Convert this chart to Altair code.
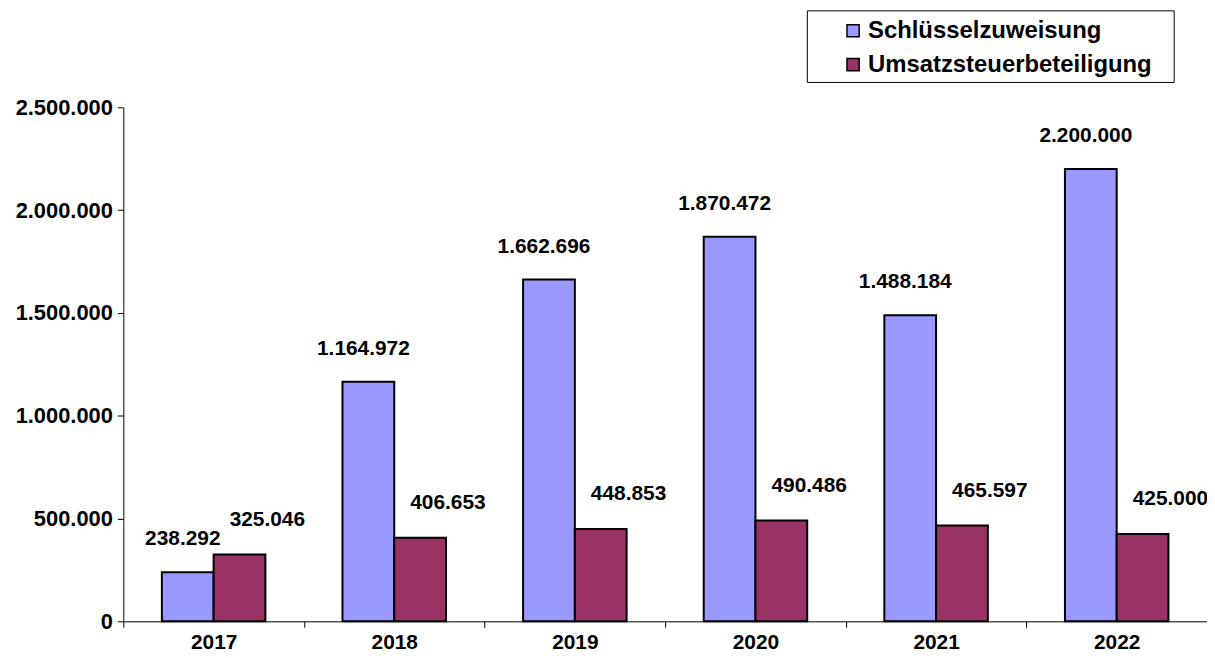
import altair as alt
import pandas as pd

years = ["2017", "2018", "2019", "2020", "2021", "2022"]
schluessel = [238292, 1164972, 1662696, 1870472, 1488184, 2200000]
umsatz = [325046, 406653, 448853, 490486, 465597, 425000]
series = ["Schlüsselzuweisung", "Umsatzsteuerbeteiligung"]
colors = ["#9999FF", "#993366"]
y_ticks = [0, 500000, 1000000, 1500000, 2000000, 2500000]

rows = []
for yr, a, b in zip(years, schluessel, umsatz):
    rows.append({"Jahr": yr, "Reihe": series[0], "Wert": a})
    rows.append({"Jahr": yr, "Reihe": series[1], "Wert": b})
df = pd.DataFrame(rows)

FONT = "Liberation Sans"
fmt_val = "replace(replace(format(datum.value, ','), ',', '.'), ',', '.')"
fmt_w = "replace(replace(format(datum.Wert, ','), ',', '.'), ',', '.')"

x = alt.X(
    "Jahr:N", sort=years,
    scale=alt.Scale(paddingInner=0, paddingOuter=0),
    axis=alt.Axis(title=None, labelAngle=0, tickBand="extent", tickSize=6,
                  tickColor="black", domainColor="black", labelFont=FONT,
                  labelFontSize=21, labelFontWeight="bold", labelColor="black",
                  labelPadding=4, grid=False),
)
xo = alt.XOffset("Reihe:N", sort=series,
                 scale=alt.Scale(domain=series, paddingOuter=0.745, paddingInner=0))
y = alt.Y(
    "Wert:Q",
    scale=alt.Scale(domain=[0, 2500000], nice=False),
    axis=alt.Axis(title=None, values=y_ticks, labelExpr=fmt_val, tickSize=6,
                  tickColor="black", domainColor="black", labelFont=FONT,
                  labelFontSize=22, labelFontWeight="bold", labelColor="black",
                  labelPadding=5, grid=False),
)

base = alt.Chart(df).encode(x=x, xOffset=xo, y=y)

bars = base.mark_bar(stroke="black", strokeWidth=2).encode(
    color=alt.Color(
        "Reihe:N", sort=series,
        scale=alt.Scale(domain=series, range=colors),
        legend=alt.Legend(title=None, orient="none", legendX=722, legendY=-89,
                          symbolType="square", symbolSize=150,
                          symbolStrokeColor="black", symbolStrokeWidth=1.5,
                          labelFont=FONT, labelFontSize=24, labelFontWeight="bold",
                          labelColor="black", rowPadding=10, labelOffset=3,
                          padding=0, labelLimit=400),
    )
)

text_kw = dict(font=FONT, fontSize=21, fontWeight="bold", color="black", baseline="middle")
labels_a = base.transform_filter(alt.datum.Reihe == series[0]).transform_calculate(
    label=fmt_w).mark_text(dx=-5, dy=-33, **text_kw).encode(text="label:N")
labels_b = base.transform_filter(alt.datum.Reihe == series[1]).transform_calculate(
    label=fmt_w).mark_text(dx=28, dy=-35, **text_kw).encode(text="label:N")

box = alt.Chart(pd.DataFrame({"k": [0]})).mark_rect(
    fill="white", stroke="black", strokeWidth=1).encode(
    x=alt.value(688), x2=alt.value(1057), y=alt.value(-97), y2=alt.value(-25))

chart = alt.layer(box, bars, labels_a, labels_b).properties(
    width=1090, height=517,
    autosize=alt.AutoSizeParams(type="none"),
    padding={"left": 116, "top": 98, "right": 0, "bottom": 30},
    background="white",
).configure_view(stroke=None)

chart.save("out.html", embed_options={"renderer": "svg", "actions": False})
